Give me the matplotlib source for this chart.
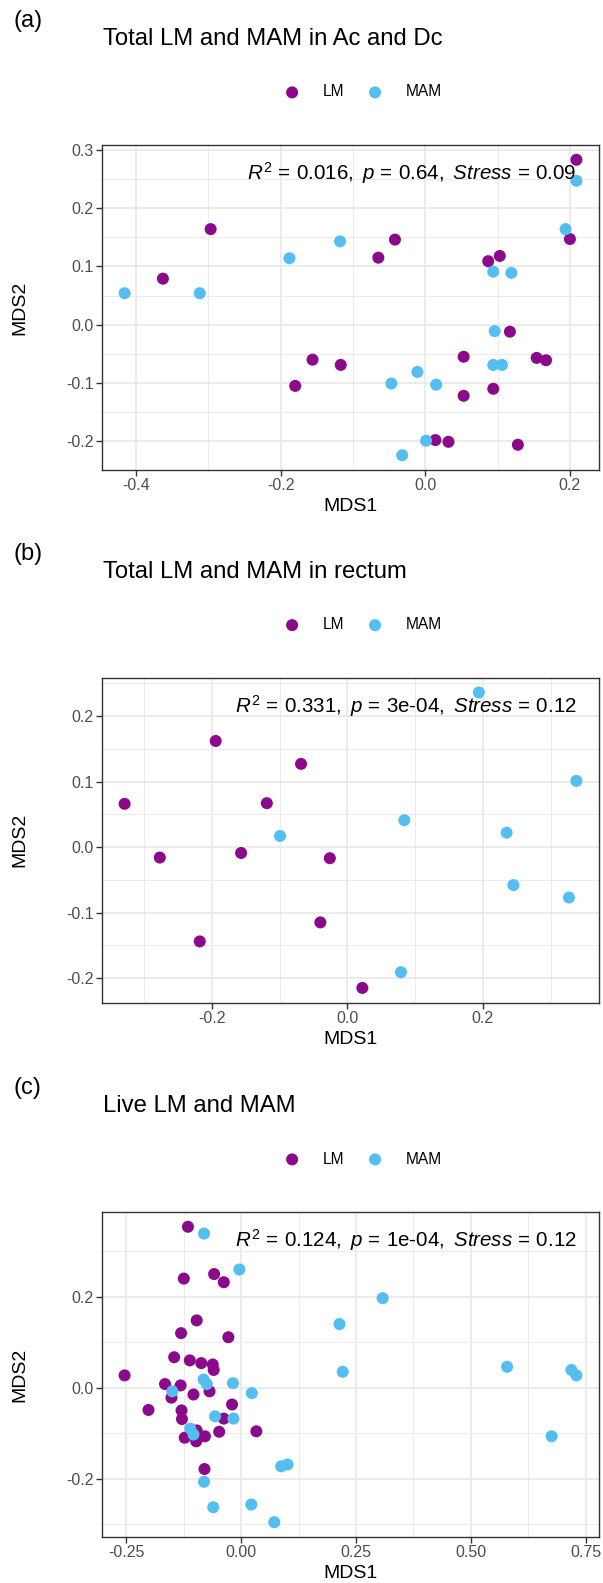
import numpy as np
import matplotlib
matplotlib.use("Agg")
import matplotlib.pyplot as plt
from matplotlib.ticker import MultipleLocator, FormatStrFormatter

plt.rcParams['font.family'] = ['Liberation Sans', 'DejaVu Sans']
plt.rcParams['mathtext.fontset'] = 'custom'
plt.rcParams['mathtext.rm'] = 'Liberation Sans'
plt.rcParams['mathtext.it'] = 'Liberation Sans:italic'
plt.rcParams['axes.unicode_minus'] = False

LM_COL = '#8B0A8B'
MAM_COL = '#55BEF0'

# panel a: Total LM and MAM in Ac and Dc
a_lm_x = [0.209, -0.297, -0.042, -0.065, 0.200, -0.363, 0.087, 0.103, 0.117, -0.156,
          -0.117, -0.180, 0.053, 0.154, 0.167, 0.094, 0.053, 0.014, 0.032, 0.128]
a_lm_y = [0.283, 0.164, 0.146, 0.115, 0.147, 0.079, 0.109, 0.118, -0.012, -0.060,
          -0.069, -0.105, -0.055, -0.057, -0.061, -0.110, -0.122, -0.198, -0.201, -0.206]
a_mam_x = [0.209, 0.194, -0.118, -0.188, -0.416, -0.312, 0.094, 0.119, 0.096, 0.094,
           0.106, -0.011, -0.047, 0.015, 0.001, -0.032]
a_mam_y = [0.247, 0.164, 0.143, 0.114, 0.054, 0.054, 0.091, 0.089, -0.011, -0.069,
           -0.069, -0.081, -0.101, -0.103, -0.199, -0.224]

# panel b: Total LM and MAM in rectum
b_lm_x = [-0.1945, -0.0685, -0.329, -0.119, -0.277, -0.157, -0.026, -0.040, -0.218, 0.022]
b_lm_y = [0.162, 0.127, 0.066, 0.067, -0.016, -0.009, -0.017, -0.115, -0.144, -0.215]
b_mam_x = [0.194, 0.338, 0.084, -0.0995, 0.235, 0.245, 0.327, 0.079]
b_mam_y = [0.236, 0.101, 0.041, 0.017, 0.022, -0.058, -0.077, -0.191]

# panel c: Live LM and MAM
c_lm_x = [-0.116, -0.125, -0.059, -0.038, -0.097, -0.131, -0.028, -0.146, -0.112, -0.087,
          -0.062, -0.060, -0.254, -0.166, -0.132, -0.152, -0.104, -0.069, -0.202, -0.130,
          -0.020, -0.129, -0.038, -0.097, -0.048, 0.033, -0.123, -0.079, -0.098, -0.080]
c_lm_y = [0.354, 0.240, 0.250, 0.232, 0.148, 0.120, 0.111, 0.067, 0.060, 0.054,
          0.051, 0.039, 0.027, 0.008, 0.005, -0.022, -0.015, -0.008, -0.049, -0.050,
          -0.037, -0.069, -0.068, -0.094, -0.097, -0.096, -0.110, -0.107, -0.118, -0.179]
c_mam_x = [-0.081, -0.004, 0.308, 0.214, 0.221, 0.579, 0.719, 0.730, -0.082, -0.075,
           -0.018, -0.150, 0.023, -0.057, -0.017, -0.111, -0.104, 0.676, 0.087, 0.101,
           -0.081, -0.061, 0.022, 0.072]
c_mam_y = [0.339, 0.260, 0.197, 0.140, 0.035, 0.046, 0.039, 0.027, 0.018, 0.008,
           0.010, -0.008, -0.012, -0.063, -0.068, -0.090, -0.103, -0.107, -0.173, -0.169,
           -0.207, -0.263, -0.257, -0.296]

tags = ['(a)', '(b)', '(c)']
titles = ['Total LM and MAM in Ac and Dc', 'Total LM and MAM in rectum', 'Live LM and MAM']
EQ = r'\,=\,'
stats = [r'$R^2' + EQ + r'0.016,\ p' + EQ + r'0.64,\ Stress' + EQ + r'0.09$',
         r'$R^2' + EQ + r'0.331,\ p' + EQ + r'$3e-04$,\ Stress' + EQ + r'0.12$',
         r'$R^2' + EQ + r'0.124,\ p' + EQ + r'$1e-04$,\ Stress' + EQ + r'0.12$']
data = [(a_lm_x, a_lm_y, a_mam_x, a_mam_y),
        (b_lm_x, b_lm_y, b_mam_x, b_mam_y),
        (c_lm_x, c_lm_y, c_mam_x, c_mam_y)]
xmajor = [0.2, 0.2, 0.25]
ymajor = [0.1, 0.1, 0.2]
xfmt = ['%.1f', '%.1f', '%.2f']

W, H = 603, 1583
fig = plt.figure(figsize=(W / 100, H / 100), dpi=100)
tops = [145, 677.7, 1212]
ax_h = 325

for i in range(3):
    top = tops[i]
    ax = fig.add_axes([102 / W, 1 - (top + ax_h) / H, 497 / W, ax_h / H])
    lmx, lmy, mamx, mamy = data[i]
    ax.scatter(lmx, lmy, s=75, color=LM_COL, edgecolors='none', label='LM', zorder=3)
    ax.scatter(mamx, mamy, s=75, color=MAM_COL, edgecolors='none', label='MAM', zorder=3)
    ax.margins(0.05)

    ax.xaxis.set_major_locator(MultipleLocator(xmajor[i]))
    ax.xaxis.set_minor_locator(MultipleLocator(xmajor[i] / 2))
    ax.yaxis.set_major_locator(MultipleLocator(ymajor[i]))
    ax.yaxis.set_minor_locator(MultipleLocator(ymajor[i] / 2))
    ax.xaxis.set_major_formatter(FormatStrFormatter(xfmt[i]))
    ax.yaxis.set_major_formatter(FormatStrFormatter('%.1f'))
    ax.grid(which='major', color='#E8E8E8', linewidth=1.2, zorder=0)
    ax.grid(which='minor', color='#EBEBEB', linewidth=0.7, zorder=0)
    ax.set_axisbelow(True)
    ax.tick_params(which='major', length=4, width=1, color='#333333',
                   labelsize=11.5, labelcolor='#4D4D4D', pad=2)
    ax.tick_params(which='minor', length=0)
    for sp in ax.spines.values():
        sp.set_color('#333333')
        sp.set_linewidth(1.0)

    ax.set_xlabel('MDS1', fontsize=14, va='center')
    ax.xaxis.set_label_coords(0.5, -0.112)
    ax.set_ylabel('MDS2', fontsize=14, va='center')
    ax.yaxis.set_label_coords(-0.165, 0.5)

    ax.text(0.955, 0.914, stats[i], transform=ax.transAxes, ha='right', va='center',
            fontsize=14.8, color='black', zorder=4)

    ax.legend(loc='center', bbox_to_anchor=(0.525, 1 + 53 / ax_h), ncol=2, frameon=False,
              fontsize=11.2, handlelength=1.0, handletextpad=1.45, columnspacing=1.5,
              borderaxespad=0, markerscale=1.0)

    fig.text(103 / W, 1 - (top - 106) / H, titles[i], fontsize=17.2, ha='left', va='center')
    fig.text(14 / W, 1 - (top - 124) / H, tags[i], fontsize=17, ha='left', va='center')

fig.savefig('out.png', dpi=100)
